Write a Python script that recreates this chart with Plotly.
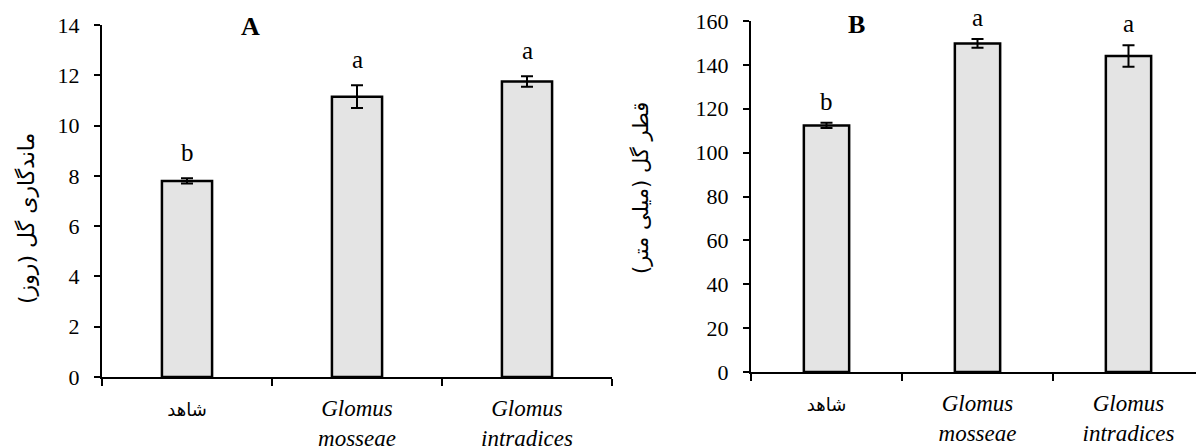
import plotly.graph_objects as go

# ---- data ----
categories = ["control", "mosseae", "intradices"]
tick_labels = [
    "<span style='font-family:DejaVu Sans;font-size:18px'>شاهد</span>",
    "<i>Glomus</i><br><i>mosseae</i>",
    "<i>Glomus</i><br><i>intradices</i>",
]
vase_life = [7.8, 11.15, 11.75]          # days (panel A)
vase_life_err = [0.1, 0.45, 0.21]
diameter = [112.4, 149.8, 144.1]         # mm (panel B)
diameter_err = [1.2, 2.0, 4.9]
letters_a = ["b", "a", "a"]
letters_b = ["b", "a", "a"]
yticks_a = [0, 2, 4, 6, 8, 10, 12, 14]
yticks_b = [0, 20, 40, 60, 80, 100, 120, 140, 160]

W, H = 1196, 448
SERIF = "Times New Roman, serif"
FA = "DejaVu Sans"

fig = go.Figure()

bar_style = dict(
    marker=dict(color="#e4e4e4", line=dict(color="black", width=2.5)),
    showlegend=False,
    hoverinfo="skip",
)

fig.add_trace(go.Bar(
    x=categories, y=vase_life, width=0.295,
    error_y=dict(type="data", array=vase_life_err, color="black", thickness=2, width=6),
    xaxis="x", yaxis="y", **bar_style))
fig.add_trace(go.Bar(
    x=categories, y=diameter, width=0.3,
    error_y=dict(type="data", array=diameter_err, color="black", thickness=2, width=6),
    xaxis="x2", yaxis="y2", **bar_style))

xaxis_common = dict(
    type="category", showline=True, linecolor="black", linewidth=2,
    ticks="outside", tickson="boundaries", ticklen=7, tickwidth=2, tickcolor="black",
    showgrid=False, zeroline=False, automargin=False,
    tickvals=categories, ticktext=tick_labels,
    tickfont=dict(family=SERIF, size=23, color="black"),
    ticklabelstandoff=9,
)
yaxis_common = dict(
    showline=True, linecolor="black", linewidth=2,
    ticks="outside", ticklen=6, tickwidth=2, tickcolor="black",
    showgrid=False, zeroline=False, automargin=False,
    tickfont=dict(family=SERIF, size=22, color="black"),
    ticklabelstandoff=10,
)

fig.update_layout(
    template="none",
    font=dict(family=SERIF, size=22, color="black"),
    xaxis=dict(domain=[102 / W, 612 / W], range=[-0.5, 2.5], anchor="y", **xaxis_common),
    yaxis=dict(domain=[(H - 377) / H, (H - 25) / H], range=[0, 14], tickvals=yticks_a,
               anchor="x", **yaxis_common),
    xaxis2=dict(domain=[751 / W, 1.0], range=[-0.5, -0.5 + (W - 751) / 151], anchor="y2",
                **xaxis_common),
    yaxis2=dict(domain=[(H - 372) / H, (H - 21) / H], range=[0, 160], tickvals=yticks_b,
                anchor="x2", **yaxis_common),
)

letter_font = dict(family=SERIF, size=25, color="black")
ann = []
for c, v, e, l in zip(categories, vase_life, vase_life_err, letters_a):
    ann.append(dict(x=c, y=v + e, xref="x", yref="y", text=l, showarrow=False,
                    xanchor="center", yanchor="bottom", yshift=10, font=letter_font))
for c, v, e, l in zip(categories, diameter, diameter_err, letters_b):
    ann.append(dict(x=c, y=v + e, xref="x2", yref="y2", text=l, showarrow=False,
                    xanchor="center", yanchor="bottom", yshift=6, font=letter_font))

# panel titles
title_font = dict(family=SERIF, size=26, color="black")
ann.append(dict(x=250 / W, y=1 - 27 / H, xref="paper", yref="paper", text="<b>A</b>",
                showarrow=False, xanchor="center", yanchor="middle", font=title_font))
ann.append(dict(x=856 / W, y=1 - 25 / H, xref="paper", yref="paper", text="<b>B</b>",
                showarrow=False, xanchor="center", yanchor="middle", font=title_font))

# y-axis titles (Persian, rotated)
ann.append(dict(x=26 / W, y=1 - 219 / H, xref="paper", yref="paper",
                text="ماندگاری گل (روز)", textangle=-90, showarrow=False,
                xanchor="center", yanchor="middle",
                font=dict(family=FA, size=22, color="black")))
ann.append(dict(x=641 / W, y=1 - 188 / H, xref="paper", yref="paper",
                text="قطر گل (میلی متر)", textangle=-90, showarrow=False,
                xanchor="center", yanchor="middle",
                font=dict(family=FA, size=21, color="black")))

fig.update_layout(
    annotations=ann,
    width=W, height=H,
    margin=dict(l=0, r=0, t=0, b=0, autoexpand=False),
    paper_bgcolor="white", plot_bgcolor="white",
)

fig.write_html(
    "out.html",
    config={"displayModeBar": False},
    post_script="document.body.style.margin='0';document.body.style.overflow='hidden';",
)
